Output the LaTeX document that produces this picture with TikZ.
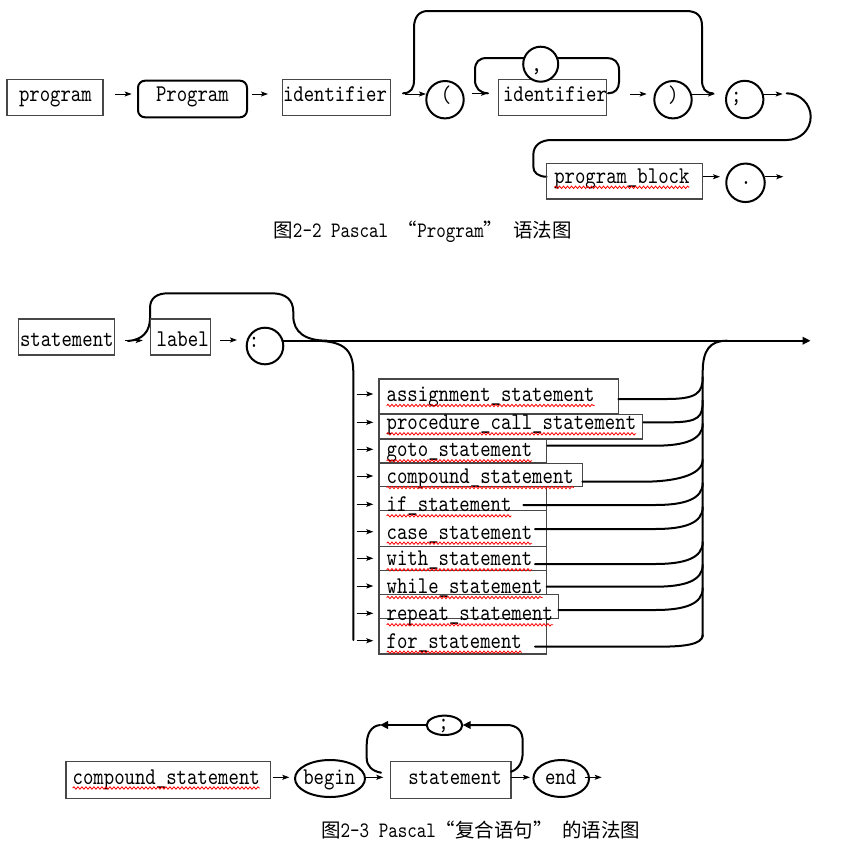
\documentclass[tikz,border=0pt]{standalone}
\usepackage{fontspec}
\newfontfamily\codefont{lmmono10-regular.otf}[FakeStretch=0.825]
\newfontfamily\cjk{Noto Sans CJK SC}
\usetikzlibrary{arrows.meta,decorations.pathmorphing,shapes.geometric}

% terminal/non-terminal box given by its corners
\newcommand\railbox[5]{%
  \node[termbox, minimum width={(#4-#2)*1pt}, minimum height={(#5-#3)*1pt}]
    (#1) at ({(#2+#4)/2},{(#3+#5)/2}) {};}
\newcommand\zh[1]{{\cjk\fontsize{19.5}{22}\selectfont #1}}

\tikzset{
  lbl/.style={inner sep=0pt, outer sep=0pt, anchor=base west,
    font=\codefont\fontsize{24}{26}\selectfont},
  sym/.style={inner sep=0pt, outer sep=0pt, anchor=center,
    font=\codefont\fontsize{24}{26}\selectfont},
  captext/.style={inner sep=0pt, anchor=center,
    font=\codefont\fontsize{22}{24}\selectfont},
  termbox/.style={draw=black!72, line width=1.1pt, inner sep=0pt, outer sep=0pt},
  keybox/.style={draw=black, line width=2pt, rounded corners=7pt, inner sep=0pt},
  token/.style={circle, draw=black, line width=2pt, fill=white, inner sep=0pt,
    minimum size=37.4pt},
  oval/.style={ellipse, draw=black, line width=2pt, fill=white, inner sep=0pt},
  track/.style={draw=black, line width=2pt, line cap=round, line join=round},
  tinyarrow/.style={draw=black, line width=1pt,
    -{Stealth[length=7pt, width=5pt, inset=1.5pt]}},
  bigtip/.style={-{Triangle[length=8pt, width=7.5pt]}},
  spell/.style={draw=red, line width=0.8pt, decorate,
    decoration={snake, segment length=4pt, amplitude=1.2pt}},
}

\begin{document}
\begin{tikzpicture}[x=1pt, y=-1pt]
\useasboundingbox (0,0) rectangle (859,841);

% ================= program =================
\railbox{b1}{7}{79.3}{103}{115.3}
\node[lbl] (t1) at (19,101.7) {program};
\draw[tinyarrow] (115,94) -- (131.7,94);
\node[keybox, minimum width=109pt, minimum height=36.6pt] (b2) at (192.5,99) {};
\node[lbl] (t2) at (156,101.7) {Program};
\draw[tinyarrow] (251.7,94) -- (268,94);
\railbox{b3}{282.7}{79.3}{390.7}{115.3}
\node[lbl] (t3) at (283,101.7) {identifier};

% optional parameter list bypass
\draw[track] (403,93.3) .. controls (411,93.3) and (414,88) .. (414,80)
  -- (414,28) .. controls (414,17) and (419,11) .. (428,11)
  -- (686,11) .. controls (697,11) and (702,16) .. (702,26)
  -- (702,80) .. controls (702,88) and (705,93.3) .. (713,93.3);
\draw[tinyarrow] (405,94) -- (426,94);
\node[token] (c1) at (445,99.7) {};
\node[sym] (k1) at (446,95.5) {(};
\draw[tinyarrow] (471.7,93.3) -- (488,93.3);
\railbox{b4}{498.3}{79.3}{606.7}{115.3}
\node[lbl] (t4) at (503,101.7) {identifier};

% comma repetition loop
\draw[track] (488,93.3) .. controls (480,93.3) and (475,88) .. (475,80)
  -- (475,70) .. controls (475,62) and (479,58) .. (487,58)
  -- (607,58) .. controls (614,58) and (619,62) .. (619,70)
  -- (619,82) .. controls (619,89) and (615,93.3) .. (608,93.3);
\node[token, minimum size=35pt] (c2) at (540.7,64.2) {};
\node[sym] (k2) at (536.5,71.5) {,};

\draw[tinyarrow] (630,94) -- (646.7,94);
\node[token] (c3) at (673,99.7) {};
\node[sym] (k3) at (673.2,95.5) {)};
\draw[tinyarrow] (691.7,94) -- (715,94);
\node[token] (c4) at (744.7,99.5) {};
\node[sym] (k4) at (736.2,99) {;};
\draw[tinyarrow] (763.3,94) -- (782.7,94);

% turn back to the second line
\draw[track] (786.7,93.3) .. controls (800,93.3) and (810.7,104) .. (810.7,116.7)
  .. controls (810.7,130) and (800,140) .. (786.7,140)
  -- (551.7,140) .. controls (541,140) and (533.3,145) .. (533.3,155)
  -- (533.3,166.7) .. controls (533.3,172.5) and (538,176.7) .. (546.7,176.7);
\railbox{b5}{546.7}{163.3}{702.7}{199}
\node[lbl] (t5) at (554.3,183.3) {program\_block};
\draw[spell] ([yshift=-4pt]t5.base west) -- ([yshift=-4pt]t5.base east);
\draw[tinyarrow] (702.7,176.7) -- (720,176.7);
\node[token, minimum size=38.5pt] (c5) at (745.5,182.8) {};
\node[sym] (k5) at (746,183.3) {.};
\draw[tinyarrow] (765,176.7) -- (783.3,176.7);

\node[captext] (cap1) at (422.5,231.7)
  {\zh{图}2-2 Pascal \zh{“}Program\zh{”} \zh{语法图}};

% ================= statement =================
\railbox{b6}{18.3}{319}{114.3}{355}
\node[lbl] (t6) at (20,346.7) {statement};
\draw[tinyarrow] (125,340.5) -- (142.7,340.5);
% label bypass
\draw[track] (128,341) .. controls (142,340) and (150,332) .. (150,318)
  -- (150,308) .. controls (150,298) and (157,293.3) .. (168,293.3)
  -- (272,293.3) .. controls (286,293.3) and (293.3,300) .. (293.3,312)
  -- (293.3,316) .. controls (293.3,332) and (305,340.7) .. (327,340.7);
\railbox{b7}{150.7}{319}{210.7}{355}
\node[lbl] (t7) at (156.7,346.7) {label};
\draw[tinyarrow] (220,340) -- (237,340);
\node[token, minimum size=36.6pt] (c6) at (265,346) {};
\node[sym] (k6) at (254,342.5) {:};

% empty statement: straight through
\draw[track, bigtip] (282.6,340.7) -- (810.5,340.7);
% branch down into the alternatives
\draw[track] (313,340.7) .. controls (342,340.7) and (353.3,348) .. (353.3,372)
  -- (353.3,640);
% collecting line on the right
\draw[track] (702.7,637) -- (702.7,372)
  .. controls (702.7,350) and (710,340.7) .. (727,340.7);

% alternative boxes
\railbox{r1}{379}{379}{618.3}{414}
\railbox{r2}{379}{414.3}{642.3}{439}
\railbox{r3}{379}{439}{546.7}{462.3}
\railbox{r4}{379}{463.3}{582.3}{486.7}
\railbox{r5}{379}{486.7}{546.7}{510.7}
\railbox{r6}{379}{510.7}{546.7}{546.7}
\railbox{r7}{379}{546.7}{546.7}{570.7}
\railbox{r8}{379}{570.7}{546.7}{594.3}
\railbox{r9}{379}{594.3}{558.3}{618.3}
\railbox{r10}{379}{618.3}{546.7}{654}

\foreach \name/\ya/\txt in {
  s1/394/assignment\_statement,
  s2/422.3/procedure\_call\_statement,
  s3/449.3/goto\_statement,
  s4/476/compound\_statement,
  s5/504.3/if\_statement,
  s6/531.7/case\_statement,
  s7/558.3/with\_statement,
  s8/586/while\_statement,
  s9/613.3/repeat\_statement,
  s10/640.7/for\_statement}{
  \draw[tinyarrow] (356.7,\ya) -- (373.3,\ya);
  \node[lbl] (\name) at (386.7,\ya+7.5) {\txt};
  \draw[spell] ([yshift=-4pt]\name.base west) -- ([yshift=-4pt]\name.base east);
}

% exits into the collecting line
\foreach \xs/\ye/\xc in {618.3/399/666.7, 643.3/422.3/670, 547.3/445.7/655,
  582.3/481.7/643.3, 523.3/505/655, 535/529/655, 535/564/655,
  546.7/586.7/655, 558.3/610/655}{
  \draw[track] (\xs,\ye) -- (\xc,\ye)
    .. controls (\xc+30,\ye) and (702.7,\ye-6) .. (702.7,\ye-22);
}
\draw[track] (535,646.7) -- (656.7,646.7)
  .. controls (682,646.7) and (702.7,645) .. (702.7,635);

% ================= compound statement =================
\railbox{b8}{66}{761.7}{270.7}{798.3}
\node[lbl] (t8) at (72.7,784) {compound\_statement};
\draw[spell] ([yshift=-4pt]t8.base west) -- ([yshift=-4pt]t8.base east);
\draw[tinyarrow] (272.7,777.3) -- (289.3,777.3);
\node[oval, minimum width=70pt, minimum height=37pt] (e1) at (330,778.5) {};
\node[lbl] (t9) at (303.3,784) {begin};
\draw[tinyarrow] (365,777.3) -- (383.3,777.3);
\railbox{b9}{390.7}{761.7}{511}{798.3}
\node[lbl] (t10) at (408.3,784) {statement};

% semicolon repetition loop
\draw[track, bigtip] (511,771.7) .. controls (519,769) and (522.7,762) .. (522.7,752)
  -- (522.7,741) .. controls (522.7,731) and (517,725) .. (507,725) -- (462.7,725);
\node[oval, minimum width=35.6pt, minimum height=19.4pt] (e2) at (444.5,725.3) {};
\node[sym] (k7) at (443.5,725.5) {;};
\draw[track, bigtip] (426.7,725) -- (380,725);
\draw[track] (380,725) .. controls (371,726) and (366.7,734) .. (366.7,745)
  -- (366.7,758) .. controls (366.7,766) and (372,771) .. (381,772.7);

\draw[tinyarrow] (511,777.3) -- (530,777.3);
\node[oval, minimum width=55.6pt, minimum height=37pt] (e3) at (561.2,778.5) {};
\node[lbl] (t11) at (545,784) {end};
\draw[tinyarrow] (585,777.3) -- (601.7,777.3);

\node[captext] (cap2) at (480.8,830)
  {\zh{图}2-3 Pascal\zh{“复合语句”} \zh{的语法图}};
\end{tikzpicture}
\end{document}
